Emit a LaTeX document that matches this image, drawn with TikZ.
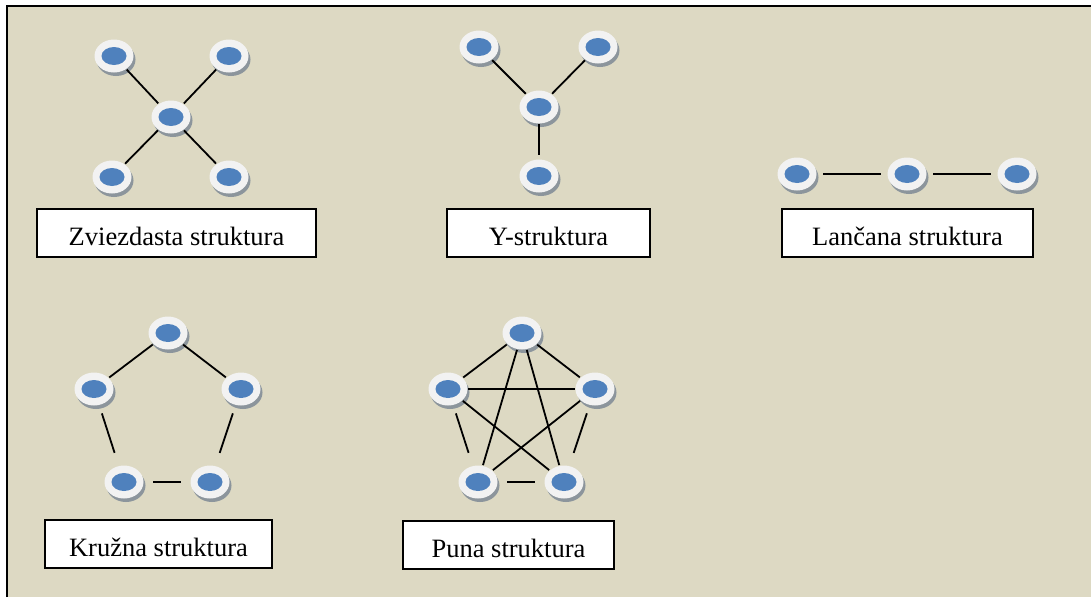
\documentclass[tikz,border=0pt]{standalone}
\usepackage{fontspec}
\setmainfont{Liberation Serif}
\usetikzlibrary{shapes.geometric,shadows}

\definecolor{pozadina}{HTML}{DDD9C3}
\definecolor{plava}{HTML}{4F81BD}
\definecolor{svijetla}{HTML}{F2F2F2}
\definecolor{sjena}{HTML}{8C959C}

\begin{document}
\begin{tikzpicture}[x=1pt,y=-1pt,line width=1.8pt,
	cvor/.style={ellipse,fill=svijetla,minimum width=39pt,minimum height=33pt,inner sep=0pt,
		drop shadow={shadow xshift=2pt,shadow yshift=-3.5pt,fill=sjena,opacity=1},
		path picture={\fill[plava] (path picture bounding box.center)
			ellipse[x radius=12.5,y radius=9];}},
	oznaka/.style={draw,fill=white,line width=1.4pt,minimum height=48pt,inner sep=0pt,
		text height=24pt,text depth=0pt,font=\fontsize{26.5}{30}\selectfont},
	razmak/.style={shorten <=8pt,shorten >=13pt},
	kratko/.style={shorten <=9pt,shorten >=9pt}]

\useasboundingbox (0,0) rectangle (1091,597);
\fill[pozadina] (7,6) rectangle (1091,597);
\draw (7,597)--(7,6)--(1091,6);

% zvjezdasta
\node[cvor] (z0) at (171,117) {};
\node[cvor] (z1) at (114,56) {};
\node[cvor] (z2) at (229,56) {};
\node[cvor] (z3) at (112,177) {};
\node[cvor] (z4) at (229,177) {};
\foreach \i in {1,...,4}
	\draw (z0)--(z\i);

% Y
\node[cvor] (y0) at (539,107) {};
\node[cvor] (y1) at (479,47) {};
\node[cvor] (y2) at (598,47) {};
\node[cvor] (y3) at (539,176) {};
\draw (y1)--(y0);
\draw (y2)--(y0);
\draw[shorten >=4pt] (y0)--(y3);

% lanac
\foreach \i/\x in {1/797,2/907,3/1017}
	\node[cvor] (l\i) at (\x,174) {};
\draw[shorten <=6pt,shorten >=6pt] (l1)--(l2);
\draw[shorten <=6pt,shorten >=6pt] (l2)--(l3);

% kruzna i puna
\foreach \s/\dx in {k/0,p/354}{
	\node[cvor] (\s1) at (168+\dx,333) {};
	\node[cvor] (\s2) at (94+\dx,389) {};
	\node[cvor] (\s3) at (241+\dx,389) {};
	\node[cvor] (\s4) at (124+\dx,482) {};
	\node[cvor] (\s5) at (210+\dx,482) {};
	\draw (\s2)--(\s1);
	\draw (\s1)--(\s3);
	\draw[razmak] (\s2)--(\s4);
	\draw[razmak] (\s3)--(\s5);
	\draw[kratko] (\s4)--(\s5);
}
\draw (p2)--(p3);
\draw (p1)--(p4);
\draw (p1)--(p5);
\draw (p2)--(p5);
\draw (p3)--(p4);

% oznake
\node[oznaka,minimum width=279pt] (tz) at (176.5,233) {Zviezdasta struktura};
\node[oznaka,minimum width=203pt] (ty) at (548.5,233) {Y-struktura};
\node[oznaka,minimum width=251pt] (tl) at (907.5,233) {Lančana struktura};
\node[oznaka,minimum width=227pt] (tk) at (158.5,544) {Kružna struktura};
\node[oznaka,minimum width=211pt] (tp) at (508.5,545) {Puna struktura};

\end{tikzpicture}
\end{document}
